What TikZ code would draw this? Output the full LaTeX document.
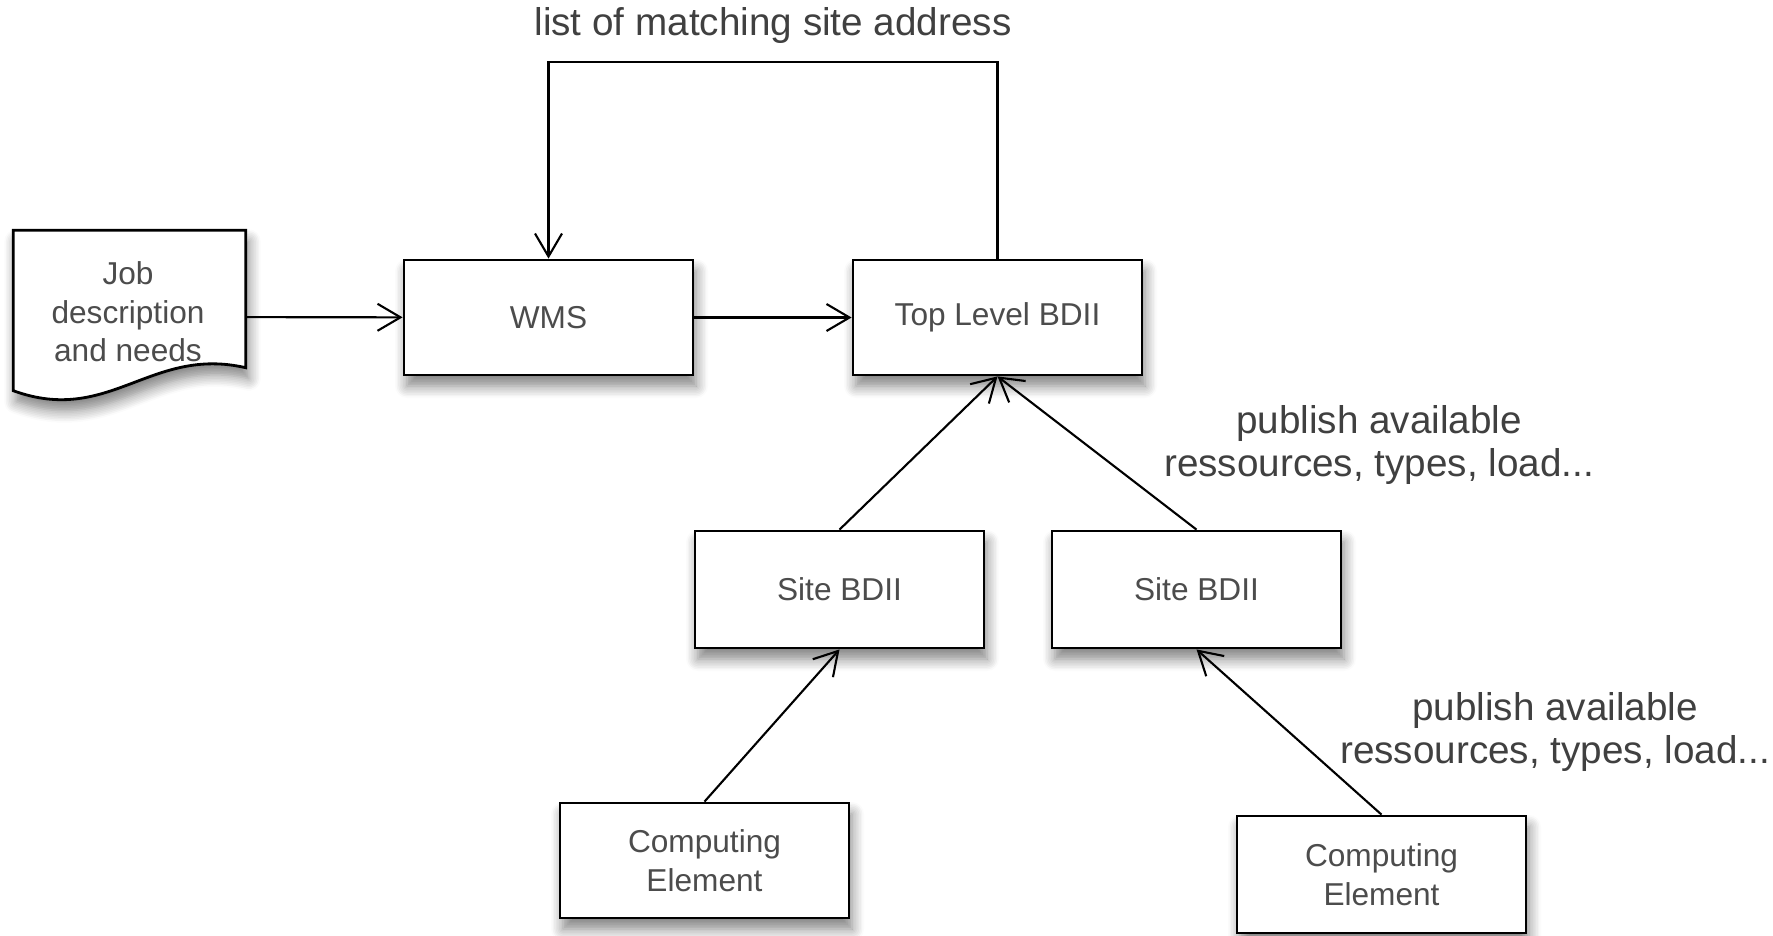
\documentclass[tikz,border=0pt]{standalone}
\usepackage{fontspec}
\setmainfont{Liberation Sans}
\usepackage{tikz}
\usepackage{xcolor}
\usetikzlibrary{arrows.meta,shadows.blur}

\begin{document}
\begin{tikzpicture}[
  shade/.style={blur shadow={shadow xshift=0.3mm, shadow yshift=-1.1mm, shadow blur steps=8, shadow blur radius=1.2mm, shadow opacity=50}},
  box/.style={rectangle, draw, line width=0.8pt, fill=white, minimum width=2.89cm, minimum height=1.15cm,
    text=black!70, align=center, font=\fontsize{9}{11}\selectfont, shade},
  arr/.style={-{Straight Barb[length=2.3mm,width=2.7mm]}, line width=0.6pt},
  lbl/.style={text=black!75, align=center, font=\fontsize{11}{12.4}\selectfont}
]
\useasboundingbox (0,0) rectangle (17.73,-9.35);

% job description (document shape)
\node[rectangle, minimum width=2.31cm, minimum height=1.72cm] (job) at (1.295,-3.17) {};
\draw[line width=0.8pt, fill=white, shade]
  (job.north west) -- (job.north east) -- ([yshift=0.36cm]job.south east)
  .. controls ([xshift=-0.95cm,yshift=0.58cm]job.south east) and ([xshift=0.96cm,yshift=-0.22cm]job.south west)
  .. ([yshift=0.13cm]job.south west) -- cycle;
\node[text=black!70, align=center, font=\fontsize{9}{11}\selectfont] (jobtext) at (1.28,-3.12) {Job\\description\\and needs};

\node[box] (wms) at (5.485,-3.175) {WMS};
\node[box] (top) at (9.975,-3.175) {Top Level BDII};
\node[box, minimum height=1.17cm] (site1) at (8.395,-5.895) {Site BDII};
\node[box, minimum height=1.17cm] (site2) at (11.965,-5.895) {Site BDII};
\node[box] (ce1) at (7.045,-8.605) {Computing\\Element};
\node[box, minimum height=1.17cm] (ce2) at (13.815,-8.745) {Computing\\Element};

\draw[arr] (job) -- (wms);
\draw[arr] (wms) -- (top);
\draw[arr] (top.north) -- ++(0,1.97) -| node[lbl, pos=0.25, above=0.5mm] (lblmatch) {list of matching site address} (wms.north);
\draw[arr] (site1.north) -- (top.south);
\draw[arr] (site2.north) -- (top.south);
\draw[arr] (ce1.north) -- (site1.south);
\draw[arr] (ce2.north) -- (site2.south);

\node[lbl] (lblpub1) at (13.79,-4.45) {publish available\\ressources, types, load...};
\node[lbl] (lblpub2) at (15.55,-7.32) {publish available\\ressources, types, load...};
\end{tikzpicture}
\end{document}
